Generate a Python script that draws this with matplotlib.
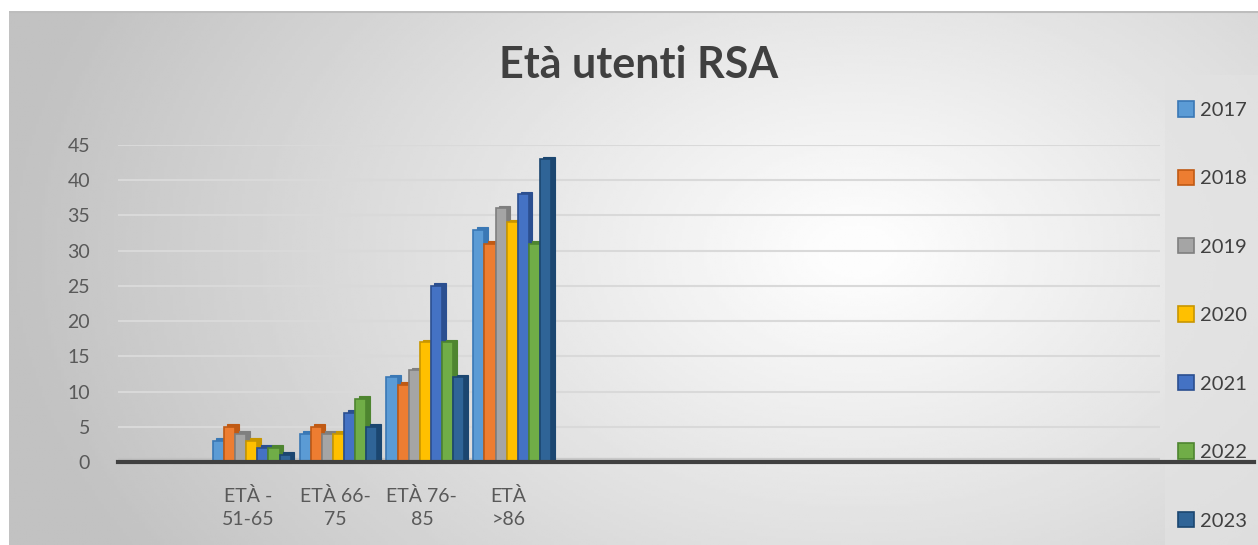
import numpy as np
import matplotlib.pyplot as plt
from matplotlib.patches import Rectangle

plt.rcParams['font.family'] = ['Lato', 'DejaVu Sans']

# dati
categorie = ['ETÀ -\n51-65', 'ETÀ 66-\n75', 'ETÀ 76-\n85', 'ETÀ\n>86']
anni = ['2017', '2018', '2019', '2020', '2021', '2022', '2023']
v2017 = [3, 4, 12, 33]
v2018 = [5, 5, 11, 31]
v2019 = [4, 4, 13, 36]
v2020 = [3, 4, 17, 34]
v2021 = [2, 7, 25, 38]
v2022 = [2, 9, 17, 31]
v2023 = [1, 5, 12, 43]
serie = [v2017, v2018, v2019, v2020, v2021, v2022, v2023]

colori = ['#5B9BD5', '#ED7D31', '#A5A5A5', '#FFC000', '#4472C4', '#70AD47', '#2F6497']
bordi = ['#3A78B5', '#C05A14', '#7F7F7F', '#C89600', '#2B4F90', '#4E8530', '#1B4670']

fig = plt.figure(figsize=(12.58, 5.45), dpi=100)
fig.patch.set_facecolor('white')

# sfondo sfumato (area grafico)
bg = fig.add_axes([9/1258, 0, 1 - 9/1258, 1 - 11/545], zorder=-10)
yy, xx = np.mgrid[0:1:200j, 0:1:400j]
d = np.sqrt(((xx - 0.68) * 1.6) ** 2 + ((yy - 0.45) * 1.0) ** 2)
grad = np.clip(1.0 - 0.22 * d, 0.76, 0.99)
bg.imshow(grad, cmap='gray', vmin=0, vmax=1, aspect='auto', extent=[0, 1, 0, 1])
bg.set_xlim(0, 1)
bg.set_ylim(0, 1)
bg.axis('off')
bg.plot([0, 1], [0.999, 0.999], color='#BDBDBD', lw=1.5)

# pannello legenda
fig.patches.append(Rectangle((1165/1258, 0), 93/1258, 1 - 75/545, transform=fig.transFigure,
                             facecolor='#E2E2E2', edgecolor='none', alpha=0.75, zorder=-5))

ax = fig.add_axes([118/1258, 1 - 462/545, (1160 - 118)/1258, (462 - 145)/545])
ax.patch.set_alpha(0)

x = np.arange(len(categorie))
w = 0.128
dx, dy = 0.04, 0.35
handles = []
for i, (vals, c, e) in enumerate(zip(serie, colori, bordi)):
    xi = x + 0.04 + (i - 3) * w
    ax.bar(xi + dx, vals, width=w, bottom=dy, color=e, edgecolor=e, lw=0.8, zorder=2)
    b = ax.bar(xi, vals, width=w, color=c, edgecolor=e, lw=1.2, zorder=3, label=anni[i])
    handles.append(b)

ax.set_xlim(-1.5, 10.5)
ax.set_ylim(0, 45)
ax.set_yticks(range(0, 46, 5))
ax.set_xticks(x)
ax.set_xticklabels(categorie, linespacing=1.45)
ax.tick_params(axis='both', length=0, labelsize=14, colors='#595959')
ax.tick_params(axis='x', pad=18)
ax.tick_params(axis='y', pad=20)
ax.grid(axis='y', color='#D9D9D9', lw=1.5, zorder=0)
for s in ax.spines.values():
    s.set_visible(False)
ax.axhline(0, xmax=1.09, color='#404040', lw=3, zorder=4, clip_on=False)
ax.axhspan(0, 0.5, color='#BFBFBF', alpha=0.6, zorder=1)

fig.text(0.508, 0.88, 'Età utenti RSA', ha='center', va='center', fontsize=31,
         fontweight='bold', color='#404040')

fig.legend(handles=handles, loc='upper left', bbox_to_anchor=(1160/1258, 1 - 83/545),
           frameon=False, fontsize=14.5, labelspacing=2.52, handlelength=0.8, handleheight=0.8,
           handletextpad=0.3, labelcolor='#404040')

fig.savefig('out.png', dpi=100)
